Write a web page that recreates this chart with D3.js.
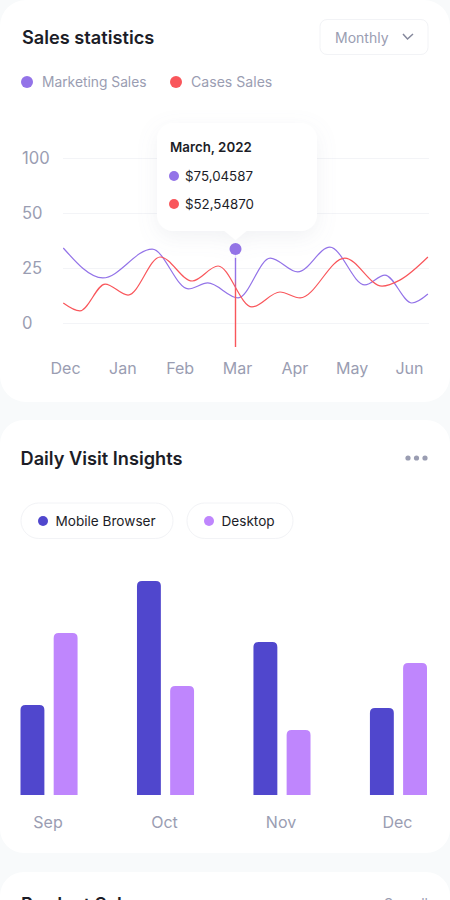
<!DOCTYPE html>
<html>
<head>
<meta charset="utf-8">
<script src="https://cdn.jsdelivr.net/npm/d3@7"></script>
<style>
  html, body { margin: 0; padding: 0; background: #f8fafb; }
  svg { display: block; font-family: Inter, sans-serif; }
</style>
</head>
<body>
<svg id="chart" width="450" height="900"></svg>
<script>
const months = ['Dec', 'Jan', 'Feb', 'Mar', 'Apr', 'May', 'Jun'];
const yTicks = [0, 25, 50, 100];

// position along the months (0 = Dec, 6 = Jun), peaks and dips
const marketingPos = [-0.03, 0.66, 1.52, 2.15, 2.49, 3.02, 3.58, 4.06, 4.62, 5.23, 5.58, 6.05, 6.33];
const marketingSales = [34.1, 20.5, 33.6, 15.5, 18.2, 11.4, 29.5, 23.2, 34.5, 17.3, 21.8, 9.1, 13.2];
const casesPos = [-0.03, 0.26, 0.7, 1.1, 1.66, 2.22, 2.67, 3.26, 3.75, 4.1, 4.88, 5.53, 5.84, 6.33];
const casesSales = [9.1, 5.5, 17.7, 12.7, 30, 19.1, 25.9, 7.3, 14.1, 11.4, 29.5, 16.8, 19.5, 30];

const visitMonths = ['Sep', 'Oct', 'Nov', 'Dec'];
const mobileVisits = [90, 214, 153, 87];
const desktopVisits = [162, 109, 65, 132];

const purple = '#9373e8';
const red = '#f9565b';
const grey = '#9a9db2';
const dark = '#1c1d27';
const indigo = '#5047cd';
const lilac = '#bf86fd';

const svg = d3.select('#chart');

const defs = svg.append('defs');
const shadow = defs.append('filter').attr('id', 'tipShadow')
  .attr('x', '-30%').attr('y', '-30%').attr('width', '160%').attr('height', '170%');
shadow.append('feDropShadow')
  .attr('dx', 0).attr('dy', 6).attr('stdDeviation', 10)
  .attr('flood-color', '#8a8fa8').attr('flood-opacity', 0.12);
const hoverGrad = defs.append('linearGradient').attr('id', 'hoverGrad')
  .attr('gradientUnits', 'userSpaceOnUse')
  .attr('x1', 0).attr('x2', 0).attr('y1', 249).attr('y2', 347);
hoverGrad.append('stop').attr('offset', '0.3').attr('stop-color', purple);
hoverGrad.append('stop').attr('offset', '0.42').attr('stop-color', red);

// cards
svg.append('rect').attr('x', 0).attr('y', -30).attr('width', 450).attr('height', 432).attr('rx', 26).attr('fill', '#fff');
svg.append('path').attr('d', 'M0,0H450V26A26,26 0 0 0 424,0H26A26,26 0 0 0 0,26Z').attr('fill', '#f8fafb');
svg.append('rect').attr('x', 0).attr('y', 420).attr('width', 450).attr('height', 433).attr('rx', 24).attr('fill', '#fff');
svg.append('rect').attr('x', 0).attr('y', 872).attr('width', 450).attr('height', 60).attr('rx', 24).attr('fill', '#fff');

// --- Sales statistics ---
svg.append('text').attr('x', 22).attr('y', 43.5).attr('font-size', 18.2).attr('font-weight', 600).attr('fill', dark).text('Sales statistics');

svg.append('rect').attr('x', 320).attr('y', 19.5).attr('width', 108).attr('height', 35).attr('rx', 7)
  .attr('fill', '#fff').attr('stroke', '#f2f3f6');
svg.append('text').attr('x', 335).attr('y', 43).attr('font-size', 14).attr('fill', grey).text('Monthly');
svg.append('path').attr('d', 'M403,34L407.5,39L413,34').attr('fill', 'none').attr('stroke', '#85889c').attr('stroke-width', 1.5);

const salesLegend = [['Marketing Sales', 27, purple, 13.8], ['Cases Sales', 176, red, 14.1]];
salesLegend.forEach(([label, cx, color, size]) => {
  svg.append('circle').attr('cx', cx).attr('cy', 82).attr('r', 6).attr('fill', color);
  svg.append('text').attr('x', cx + 15).attr('y', 87).attr('font-size', size).attr('fill', grey).text(label);
});

const xLine = d3.scaleLinear().domain([0, 6]).range([65, 409]);
const xMonth = d3.scalePoint().domain(months).range([65, 409]);
const yLine = d3.scaleLinear().domain(yTicks).range([323, 268, 213, 158]);

const gridG = svg.append('g').attr('transform', 'translate(63,0)')
  .call(d3.axisLeft(yLine).tickValues(yTicks).tickSize(-366).tickPadding(14));
gridG.select('.domain').remove();
gridG.selectAll('.tick line').attr('stroke', '#f3f4f7');
gridG.selectAll('.tick text').attr('x', -41).attr('y', 0.5).attr('text-anchor', 'start')
  .attr('font-size', 16.6).attr('font-family', 'Inter, sans-serif').attr('fill', grey);

const xAxisG = svg.append('g').attr('transform', 'translate(0,360)')
  .call(d3.axisBottom(xMonth).tickSize(0).tickPadding(0));
xAxisG.select('.domain').remove();
xAxisG.selectAll('.tick text').attr('y', 0).attr('dy', '0.85em')
  .attr('font-size', 16).attr('font-family', 'Inter, sans-serif').attr('fill', grey);

const line = d3.line()
  .x(d => xLine(d[0]))
  .y(d => yLine(d[1]))
  .curve(d3.curveMonotoneX);

svg.append('path').datum(d3.zip(marketingPos, marketingSales))
  .attr('d', line).attr('fill', 'none').attr('stroke', purple).attr('stroke-width', 1.2);
svg.append('path').datum(d3.zip(casesPos, casesSales))
  .attr('d', line).attr('fill', 'none').attr('stroke', red).attr('stroke-width', 1.2);

// hover marker on Mar
const hoverX = xMonth('Mar') - 1.5;
svg.append('line').attr('x1', hoverX).attr('x2', hoverX + 0.01).attr('y1', 249).attr('y2', 347)
  .attr('stroke', 'url(#hoverGrad)').attr('stroke-width', 1.4);
svg.append('circle').attr('cx', hoverX).attr('cy', 249).attr('r', 9).attr('fill', '#fff').attr('opacity', 0.8);
svg.append('circle').attr('cx', hoverX).attr('cy', 249).attr('r', 6).attr('fill', purple);

// tooltip, with its pointer down to the marker
svg.append('path')
  .attr('d', `M173,123H301A16,16 0 0 1 317,139V215A16,16 0 0 1 301,231H${hoverX + 11}L${hoverX},240L${hoverX - 11},231H173A16,16 0 0 1 157,215V139A16,16 0 0 1 173,123Z`)
  .attr('fill', '#fff').attr('filter', 'url(#tipShadow)');
svg.append('text').attr('x', 170).attr('y', 151.5).attr('font-size', 13.3).attr('font-weight', 600).attr('fill', dark).text('March, 2022');
const tipRows = [['$75,04587', 176, purple], ['$52,54870', 204, red]];
tipRows.forEach(([label, cy, color]) => {
  svg.append('circle').attr('cx', 174).attr('cy', cy).attr('r', 5).attr('fill', color);
  svg.append('text').attr('x', 185).attr('y', cy + 5).attr('font-size', 13.3).attr('fill', dark).text(label);
});

// --- Daily Visit Insights ---
svg.append('text').attr('x', 20.5).attr('y', 464.5).attr('font-size', 18.2).attr('font-weight', 600).attr('fill', dark).text('Daily Visit Insights');
[408, 416.5, 425].forEach(cx => {
  svg.append('circle').attr('cx', cx).attr('cy', 458).attr('r', 2.6).attr('fill', grey);
});

const visitLegend = [['Mobile Browser', 21, 152, indigo], ['Desktop', 187, 106, lilac]];
visitLegend.forEach(([label, x0, w, color]) => {
  svg.append('rect').attr('x', x0).attr('y', 503).attr('width', w).attr('height', 35.5).attr('rx', 17.7)
    .attr('fill', '#fff').attr('stroke', '#f2f3f6');
  svg.append('circle').attr('cx', x0 + 22).attr('cy', 521).attr('r', 5).attr('fill', color);
  svg.append('text').attr('x', x0 + 34.5).attr('y', 526).attr('font-size', 13.6).attr('fill', dark).text(label);
});

const xGroup = d3.scaleBand().domain(visitMonths).range([20.5, 427]).paddingInner(0.51);
const xBar = d3.scaleBand().domain(['mobile', 'desktop']).range([0, xGroup.bandwidth()]).paddingInner(0.28);
const yBar = d3.scaleLinear().domain([0, 214]).range([795, 581]);

const barPath = (x, y, w, h, r) =>
  `M${x},${y + h}V${y + r}Q${x},${y} ${x + r},${y}H${x + w - r}Q${x + w},${y} ${x + w},${y + r}V${y + h}Z`;

const barSeries = [['mobile', mobileVisits, indigo], ['desktop', desktopVisits, lilac]];
barSeries.forEach(([key, values, color]) => {
  svg.append('g').selectAll('path')
    .data(values)
    .enter()
    .append('path')
    .attr('d', (d, i) => barPath(xGroup(visitMonths[i]) + xBar(key), yBar(d), xBar.bandwidth(), yBar(0) - yBar(d), 5))
    .attr('fill', color);
});

const barAxisG = svg.append('g').attr('transform', 'translate(-1,814)')
  .call(d3.axisBottom(xGroup).tickSize(0).tickPadding(0));
barAxisG.select('.domain').remove();
barAxisG.selectAll('.tick text').attr('y', 0).attr('dy', '0.85em')
  .attr('font-size', 16).attr('font-family', 'Inter, sans-serif').attr('fill', grey);

// --- next card, cut off by the window like in the screenshot ---
svg.append('text').attr('x', 21).attr('y', 911).attr('font-size', 18.2).attr('font-weight', 600).attr('fill', dark).text('Product Sales');
svg.append('text').attr('x', 428).attr('y', 909).attr('text-anchor', 'end').attr('font-size', 14).attr('fill', grey).text('See all');
</script>
</body>
</html>
